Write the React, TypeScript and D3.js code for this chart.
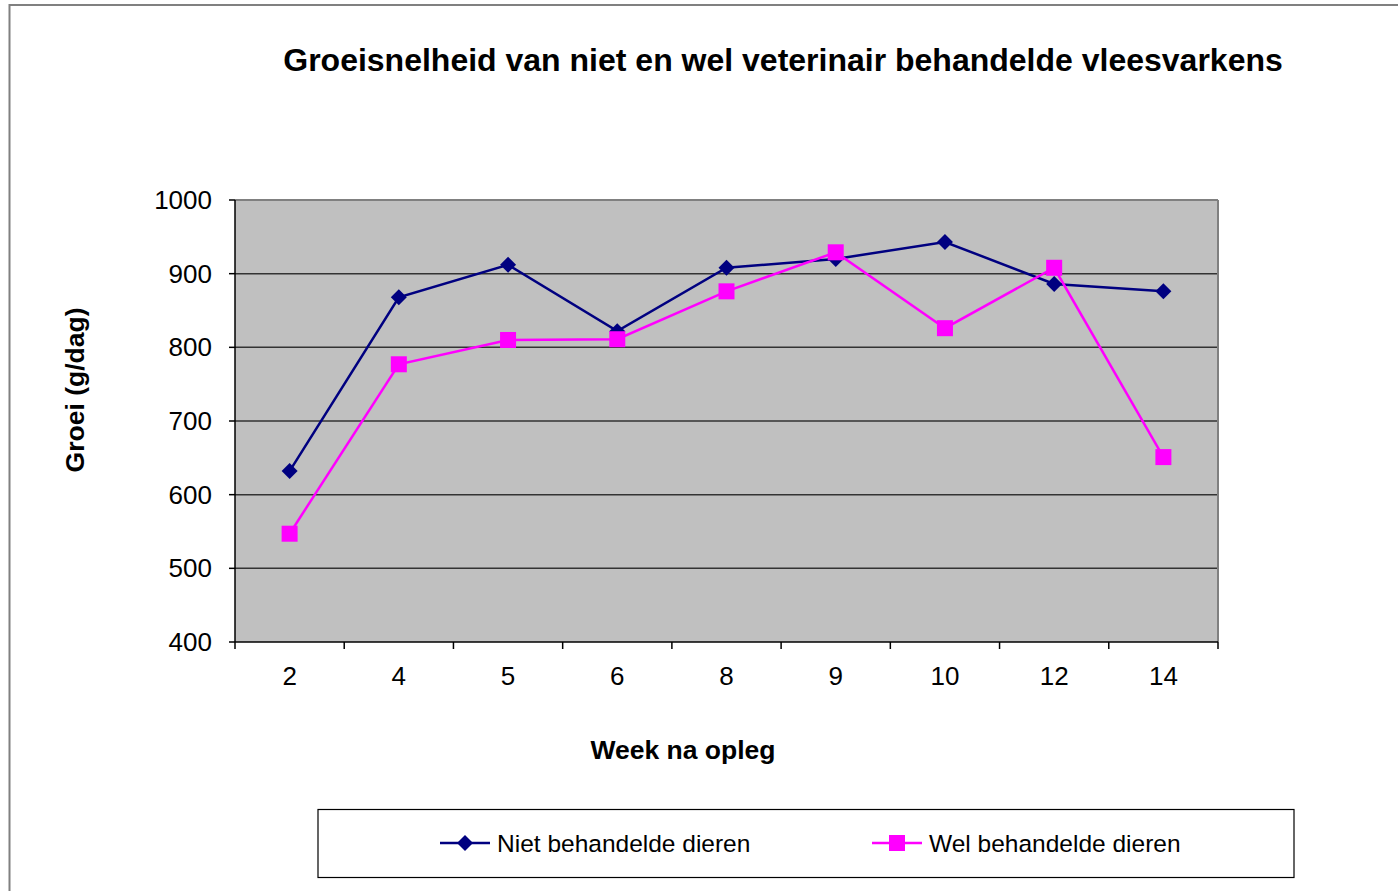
import React from "react";
import * as d3 from "d3";

// data
const weeks = ["2", "4", "5", "6", "8", "9", "10", "12", "14"];
const nietBehandeld = [632, 868, 912, 822, 908, 920, 943, 886, 876];
const welBehandeld = [547, 777, 810, 811, 876, 929, 826, 908, 651];
const yTicks = [400, 500, 600, 700, 800, 900, 1000];

const W = 1398;
const H = 891;
const plot = { left: 235, top: 200, right: 1218, bottom: 642 };
const font = "Arial, 'Liberation Sans', sans-serif";
const navy = "#000080";
const magenta = "#FF00FF";

const App = () => {
  const x = d3
    .scaleBand()
    .domain(weeks)
    .range([plot.left, plot.right]);
  const y = d3
    .scaleLinear()
    .domain([400, 1000])
    .range([plot.bottom, plot.top]);

  const cx = (w) => x(w) + x.bandwidth() / 2;
  const line = d3
    .line()
    .x((d, i) => cx(weeks[i]))
    .y((d) => y(d));

  const diamond = (px, py, r) =>
    `M${px},${py - r}L${px + r},${py}L${px},${py + r}L${px - r},${py}Z`;

  // tick positions on x axis are the band edges
  const xEdges = weeks.map((w) => x(w)).concat([plot.right]);

  return (
    <svg
      width={W}
      height={H}
      style={{ position: "absolute", left: 0, top: 0, background: "#fff" }}
      fontFamily={font}
    >
      {/* outer chart border */}
      <rect x={9.5} y={5} width={W + 20} height={H + 20} fill="none" stroke="#808080" strokeWidth={2} />

      <text x={783} y={71} textAnchor="middle" fontSize={32} fontWeight="bold">
        Groeisnelheid van niet en wel veterinair behandelde vleesvarkens
      </text>

      {/* plot area */}
      <rect
        x={plot.left}
        y={plot.top}
        width={plot.right - plot.left}
        height={plot.bottom - plot.top}
        fill="#C0C0C0"
      />
      {yTicks.slice(1, -1).map((t) => (
        <line key={t} x1={plot.left} x2={plot.right} y1={y(t)} y2={y(t)} stroke="#333" strokeWidth={1.5} />
      ))}
      <line x1={plot.left} x2={plot.right} y1={plot.top} y2={plot.top} stroke="#808080" strokeWidth={2} />
      <line x1={plot.right} x2={plot.right} y1={plot.top} y2={plot.bottom} stroke="#808080" strokeWidth={2} />

      {/* y axis */}
      <line x1={plot.left} x2={plot.left} y1={plot.top} y2={plot.bottom} stroke="#000" strokeWidth={1.5} />
      {yTicks.map((t) => (
        <g key={t}>
          <line x1={plot.left - 6} x2={plot.left} y1={y(t)} y2={y(t)} stroke="#000" strokeWidth={1.5} />
          <text x={212} y={y(t) + 9} textAnchor="end" fontSize={26}>
            {t}
          </text>
        </g>
      ))}

      {/* x axis */}
      <line x1={plot.left} x2={plot.right} y1={plot.bottom} y2={plot.bottom} stroke="#000" strokeWidth={1.5} />
      {xEdges.map((e, i) => (
        <line key={i} x1={e} x2={e} y1={plot.bottom} y2={plot.bottom + 7} stroke="#000" strokeWidth={1.5} />
      ))}
      {weeks.map((w) => (
        <text key={w} x={cx(w)} y={685} textAnchor="middle" fontSize={26}>
          {w}
        </text>
      ))}

      <text x={683} y={759} textAnchor="middle" fontSize={26.5} fontWeight="bold">
        Week na opleg
      </text>
      <text
        transform="translate(84,390) rotate(-90)"
        textAnchor="middle"
        fontSize={26.5}
        fontWeight="bold"
      >
        Groei (g/dag)
      </text>

      {/* series */}
      <path d={line(nietBehandeld)} fill="none" stroke={navy} strokeWidth={2.5} />
      <path d={line(welBehandeld)} fill="none" stroke={magenta} strokeWidth={2.5} />
      {nietBehandeld.map((v, i) => (
        <path key={i} d={diamond(cx(weeks[i]), y(v), 8)} fill={navy} />
      ))}
      {welBehandeld.map((v, i) => (
        <rect key={i} x={cx(weeks[i]) - 8} y={y(v) - 8} width={16} height={16} fill={magenta} />
      ))}

      {/* legend */}
      <rect x={318} y={809.5} width={976} height={68} fill="#fff" stroke="#000" strokeWidth={1.2} />
      <line x1={440} x2={490} y1={843} y2={843} stroke={navy} strokeWidth={2.5} />
      <path d={diamond(465, 843, 8)} fill={navy} />
      <text x={497} y={852} fontSize={24.5}>
        Niet behandelde dieren
      </text>
      <line x1={872} x2={922} y1={843} y2={843} stroke={magenta} strokeWidth={2.5} />
      <rect x={889} y={835} width={16} height={16} fill={magenta} />
      <text x={929} y={852} fontSize={24.5}>
        Wel behandelde dieren
      </text>
    </svg>
  );
};

export default App;
